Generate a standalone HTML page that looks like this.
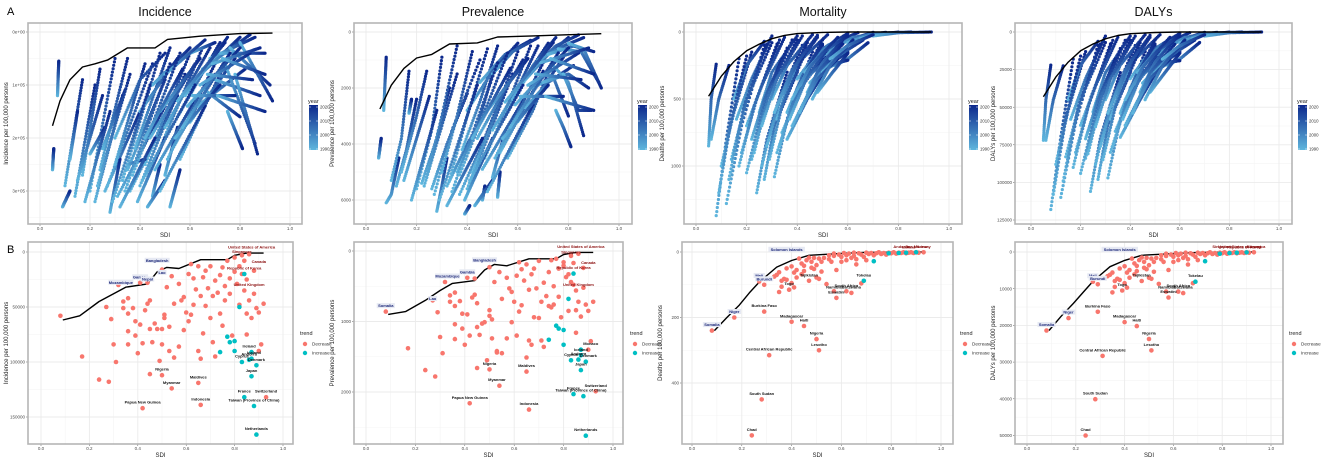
<!DOCTYPE html>
<html><head><meta charset="utf-8">
<style>
html,body{margin:0;padding:0;background:#fff;}
svg{display:block;font-family:"Liberation Sans",sans-serif;}
</style></head>
<body>
<svg id="fig" width="1325" height="465" viewBox="0 0 1325 465" xmlns="http://www.w3.org/2000/svg">
<defs>
<linearGradient id="yeargrad" x1="0" y1="1" x2="0" y2="0">
<stop offset="0" stop-color="#5fb6dd"/><stop offset="1" stop-color="#0c288c"/>
</linearGradient>
</defs>
<text x="7" y="15" font-size="11">A</text>
<text x="7" y="253" font-size="11">B</text>
</svg>
<script>
// ===== DATA =====
const SDI_TICKS = [0, 0.2, 0.4, 0.6, 0.8, 1.0];
const SDI_TICK_LABELS = ["0.0","0.2","0.4","0.6","0.8","1.0"];
const YEAR_TICKS = ["2020","2010","2000","1990"];

const P1_YTICKS = [0, 100000, 200000, 300000];
const P1_YLABELS = ["0e+00","1e+05","2e+05","3e+05"];
const P2_YTICKS = [0, 2000, 4000, 6000];
const P2_YLABELS = ["0","2000","4000","6000"];
const P3_YTICKS = [0, 500, 1000];
const P3_YLABELS = ["0","500","1000"];
const P4_YTICKS = [0, 25000, 50000, 75000, 100000, 125000];
const P4_YLABELS = ["0","25000","50000","75000","100000","125000"];

const B1_YTICKS = [0, 50000, 100000, 150000];
const B1_YLABELS = ["0","50000","100000","150000"];
const B2_YTICKS = [0, 1000, 2000];
const B2_YLABELS = ["0","1000","2000"];
const B3_YTICKS = [0, 200, 400];
const B3_YLABELS = ["0","200","400"];
const B4_YTICKS = [0, 10000, 20000, 30000, 40000, 50000];
const B4_YLABELS = ["0","10000","20000","30000","40000","50000"];

// frontiers
const P1_FRONT_S = [0.05,0.08,0.12,0.17,0.22,0.27,0.35,0.46,0.51,0.64,0.8,0.93];
const P1_FRONT_V = [177000,130000,90000,66000,60000,53000,30000,30000,14000,8000,3000,2000];
const P2_FRONT_S = [0.055,0.1,0.15,0.2,0.26,0.33,0.44,0.52,0.66,0.79,0.93];
const P2_FRONT_V = [2750,1900,1300,930,800,430,390,180,140,100,60];
const P3_FRONT_S = [0.05,0.1,0.15,0.2,0.25,0.3,0.35,0.4,0.5,0.6,0.93];
const P3_FRONT_V = [480,330,220,140,90,50,25,12,3,0,0];
const P4_FRONT_S = [0.05,0.1,0.15,0.2,0.25,0.3,0.35,0.4,0.5,0.6,0.93];
const P4_FRONT_V = [43000,30000,20000,12500,8000,4500,2300,1100,300,0,0];
const B1_FRONT_S = [0.09,0.16,0.24,0.3,0.35,0.44,0.48,0.52,0.57,0.66,0.77,0.8,0.85,0.92];
const B1_FRONT_V = [61800,58000,45000,38000,32000,29000,18000,14000,15000,7000,7000,3000,1000,1000];
const B2_FRONT_S = [0.09,0.16,0.24,0.3,0.35,0.44,0.48,0.52,0.57,0.66,0.77,0.8,0.85,0.92];
const B2_FRONT_V = [900,860,700,560,460,420,270,190,210,110,110,50,20,20];
const B3_FRONT_S = [0.09,0.14,0.19,0.23,0.27,0.34,0.4,0.47,0.59,0.7,0.93];
const B3_FRONT_V = [240,200,162,125,92,46,26,10,5,1,0];
const B4_FRONT_S = [0.09,0.14,0.19,0.23,0.27,0.34,0.4,0.47,0.59,0.7,0.93];
const B4_FRONT_V = [21400,17500,14000,11000,8000,4000,2300,900,450,100,0];

// top-row trajectories: flat waypoint lists [sdi,value,sdi,value,...] from 1990 to 2021
const P1_TRAJ = [
[0.05,260000,0.055,220000],[0.07,120000,0.075,55000],[0.09,330000,0.12,300000],[0.1,290000,0.17,90000],
[0.12,240000,0.15,150000],[0.14,310000,0.22,100000],[0.17,270000,0.24,70000],[0.2,300000,0.3,50000],
[0.22,320000,0.33,120000],[0.24,260000,0.35,50000],[0.26,300000,0.4,150000],[0.28,340000,0.32,240000],
[0.27,290000,0.45,60000],[0.3,250000,0.42,60000],[0.31,310000,0.5,140000],[0.33,280000,0.48,40000],
[0.35,260000,0.5,90000],[0.36,300000,0.55,120000],[0.38,220000,0.52,30000],[0.4,290000,0.58,80000],
[0.42,250000,0.6,40000],[0.44,200000,0.62,60000],[0.45,310000,0.48,250000],[0.47,230000,0.65,30000],
[0.5,270000,0.55,180000],[0.5,180000,0.68,30000],[0.52,330000,0.56,260000],[0.53,220000,0.7,80000],
[0.55,160000,0.72,20000],[0.56,240000,0.74,60000],[0.58,120000,0.75,10000],[0.6,170000,0.78,50000],
[0.62,90000,0.8,10000],[0.63,140000,0.82,70000],[0.65,70000,0.84,5000],[0.66,110000,0.8,160000],
[0.68,50000,0.86,10000],[0.7,90000,0.88,120000],[0.72,40000,0.9,40000],[0.74,60000,0.86,210000],
[0.75,150000,0.81,220000],[0.76,30000,0.92,100000],[0.78,80000,0.87,230000],[0.8,20000,0.93,130000],
[0.35,250000,0.42,240000],[0.2,230000,0.26,180000],[0.6,40000,0.7,20000],[0.45,100000,0.6,30000],
[0.4,150000,0.55,50000],[0.5,80000,0.66,15000],[0.3,200000,0.4,90000,0.5,40000],[0.25,220000,0.34,110000],
[0.15,280000,0.25,120000],[0.18,320000,0.28,150000],[0.23,290000,0.36,80000],[0.29,320000,0.44,100000],
[0.32,330000,0.46,200000],[0.34,300000,0.52,60000],[0.37,270000,0.56,40000],[0.39,320000,0.5,200000],
[0.41,280000,0.62,100000],[0.43,330000,0.5,280000],[0.46,260000,0.63,120000],[0.48,300000,0.66,140000],
[0.51,240000,0.7,60000],[0.54,200000,0.72,100000],[0.57,180000,0.76,40000],[0.59,140000,0.8,30000],
[0.61,120000,0.78,120000],[0.64,100000,0.84,40000],[0.67,80000,0.85,90000],[0.69,60000,0.88,30000],
[0.71,120000,0.9,150000],[0.73,50000,0.9,80000],[0.55,130000,0.74,20000],[0.48,150000,0.64,50000],[0.42,200000,0.57,70000]
];
const P2_TRAJ = [
[0.05,4500,0.06,3800],[0.07,2800,0.08,900],[0.08,6100,0.1,5800,0.13,4500],[0.1,5300,0.14,3800,0.17,1400],
[0.12,5500,0.16,4200,0.2,2400],[0.14,5000,0.2,3000,0.24,1400],[0.17,2900,0.18,2400],[0.2,5600,0.26,3500,0.3,900],
[0.22,5400,0.28,3800,0.33,2000],[0.24,5200,0.3,3000,0.36,500],[0.26,5600,0.32,4000,0.4,2200],[0.28,6400,0.3,5500,0.32,4500],
[0.27,5800,0.34,3500,0.45,1000],[0.3,5000,0.36,3000,0.42,700],[0.32,5500,0.4,4000,0.5,2500],[0.33,5300,0.4,3000,0.48,600],
[0.36,5000,0.44,3400,0.5,1500],[0.37,5800,0.45,4200,0.55,2000],[0.38,4200,0.45,2500,0.52,500],[0.4,5600,0.48,3800,0.58,1500],
[0.39,6500,0.41,6200],[0.42,5000,0.5,3200,0.6,700],[0.44,3800,0.52,2500,0.62,1000],[0.46,6000,0.47,5500],
[0.47,4500,0.56,2600,0.65,500],[0.5,5200,0.53,4200,0.55,3600],[0.5,3500,0.6,2000,0.68,500],[0.52,5900,0.53,5000],
[0.53,4300,0.62,2800,0.7,1400],[0.55,3000,0.64,1500,0.72,400],[0.56,4500,0.66,2800,0.74,1000],[0.58,2400,0.66,1200,0.75,200],
[0.6,3200,0.7,2000,0.78,900],[0.62,1800,0.72,800,0.8,200],[0.63,2700,0.72,1800,0.82,1200],[0.65,1400,0.75,500,0.84,100],
[0.66,2000,0.74,1600,0.8,3000],[0.68,1000,0.78,500,0.86,200],[0.7,1800,0.8,1500,0.88,2000],[0.72,800,0.82,500,0.9,700],
[0.74,1200,0.8,1800,0.86,3700],[0.75,2800,0.78,3400,0.81,4100],[0.76,600,0.85,700,0.92,1800],[0.78,1500,0.84,2800,0.89,2800],
[0.8,400,0.86,600,0.93,2000],[0.45,1800,0.55,800,0.65,300],[0.4,2800,0.5,1400,0.6,400],[0.5,1500,0.58,700,0.68,200],
[0.15,5300,0.25,2300],[0.18,6000,0.28,2800],[0.23,5500,0.36,1500],[0.29,6000,0.44,1900],[0.32,6200,0.46,3800],
[0.34,5700,0.52,1100],[0.37,5100,0.56,750],[0.39,6000,0.5,3800],[0.41,5300,0.62,1900],[0.43,6200,0.5,5300],
[0.46,4900,0.63,2300],[0.48,5700,0.66,2600],[0.51,4500,0.7,1100],[0.54,3800,0.72,1900],[0.57,3400,0.76,750],
[0.59,2600,0.8,570],[0.61,2300,0.78,2300],[0.64,1900,0.84,750],[0.67,1500,0.85,1700],[0.69,1100,0.88,570],
[0.71,2300,0.9,2800],[0.73,950,0.9,1500],[0.55,2500,0.74,380],[0.48,2800,0.64,950],[0.42,3800,0.57,1300]
];
const P3_TRAJ = [
[0.05,850,0.06,500,0.08,240],[0.08,1370,0.12,800,0.17,200],[0.12,1280,0.18,700,0.27,100],[0.1,1000,0.15,600,0.22,150],
[0.14,950,0.2,500,0.3,80],[0.18,900,0.24,500,0.33,60],[0.22,950,0.28,500,0.38,60],[0.24,1200,0.28,800,0.36,300],
[0.26,1000,0.32,550,0.42,100],[0.27,1100,0.31,700,0.4,300],[0.31,1080,0.36,650,0.46,150],[0.32,900,0.4,450,0.5,100],
[0.34,750,0.42,400,0.52,150],[0.36,800,0.44,500,0.5,320],[0.38,700,0.46,400,0.56,130],[0.2,700,0.26,400,0.35,40],
[0.16,650,0.22,350,0.3,30],[0.25,600,0.3,300,0.4,30],[0.3,500,0.36,250,0.46,20],[0.35,450,0.42,200,0.52,20],
[0.4,420,0.46,300,0.54,180],[0.45,380,0.52,250,0.6,150],[0.5,300,0.56,180,0.66,60],[0.55,250,0.6,200,0.68,80],
[0.4,350,0.48,150,0.6,10],[0.45,250,0.52,100,0.64,5],[0.5,180,0.58,70,0.7,3],[0.55,120,0.62,40,0.75,2],
[0.6,80,0.68,20,0.8,1],[0.65,50,0.72,10,0.85,0],[0.7,30,0.8,5,0.93,0],[0.52,270,0.56,230,0.6,210],
[0.28,850,0.34,450,0.44,80],[0.22,800,0.27,500,0.34,200],[0.32,650,0.38,300,0.48,40],[0.42,550,0.48,350,0.56,200],
[0.48,450,0.54,300,0.6,160],[0.15,500,0.2,250,0.27,70],[0.36,600,0.42,330,0.5,90],[0.44,450,0.5,230,0.58,60],
[0.06,800,0.09,500,0.13,250],[0.09,1200,0.14,650,0.2,180],[0.13,1100,0.19,550,0.28,90],[0.17,1000,0.23,550,0.32,90],
[0.2,1050,0.26,600,0.36,120],[0.23,900,0.29,450,0.4,60],[0.29,950,0.34,550,0.44,120],[0.33,850,0.4,420,0.5,60],
[0.37,650,0.44,330,0.54,80],[0.41,600,0.48,300,0.58,90],[0.46,500,0.53,250,0.62,60],[0.26,700,0.32,350,0.42,30],
[0.31,600,0.38,280,0.48,25],[0.43,300,0.5,150,0.6,30],[0.53,200,0.6,100,0.7,20],[0.38,500,0.45,260,0.56,40]
];
const P4_TRAJ = [
[0.05,72000,0.06,45000,0.08,22000],[0.08,118000,0.12,70000,0.17,18000],[0.12,110000,0.18,60000,0.27,9000],[0.1,88000,0.15,52000,0.22,13000],
[0.14,83000,0.2,45000,0.3,7000],[0.18,80000,0.24,44000,0.33,5500],[0.22,84000,0.28,45000,0.38,5500],[0.24,106000,0.28,70000,0.36,27000],
[0.26,88000,0.32,48000,0.42,9000],[0.27,98000,0.31,62000,0.4,27000],[0.31,97000,0.36,58000,0.46,13000],[0.32,80000,0.4,40000,0.5,9000],
[0.34,66000,0.42,36000,0.52,13000],[0.36,70000,0.44,45000,0.5,28000],[0.38,62000,0.46,36000,0.56,12000],[0.2,62000,0.26,36000,0.35,3500],
[0.16,58000,0.22,31000,0.3,2700],[0.25,53000,0.3,27000,0.4,2700],[0.3,45000,0.36,22000,0.46,1800],[0.35,40000,0.42,18000,0.52,1800],
[0.4,37000,0.46,27000,0.54,16000],[0.45,34000,0.52,22000,0.6,13000],[0.5,27000,0.56,16000,0.66,5400],[0.55,22000,0.6,18000,0.68,7000],
[0.4,31000,0.48,13000,0.6,900],[0.45,22000,0.52,9000,0.64,450],[0.5,16000,0.58,6200,0.7,270],[0.55,10700,0.62,3600,0.75,180],
[0.6,7100,0.68,1800,0.8,90],[0.65,4500,0.72,900,0.85,0],[0.7,2700,0.8,450,0.93,0],[0.52,24000,0.56,20000,0.6,19000],
[0.28,76000,0.34,40000,0.44,7100],[0.22,71000,0.27,45000,0.34,18000],[0.32,58000,0.38,27000,0.48,3600],[0.42,49000,0.48,31000,0.56,18000],
[0.48,40000,0.54,27000,0.6,14000],[0.15,45000,0.2,22000,0.27,6200],[0.36,54000,0.42,30000,0.5,8000],[0.44,40000,0.5,20000,0.58,5000],
[0.06,72000,0.09,45000,0.13,22500],[0.09,108000,0.14,58000,0.2,16000],[0.13,99000,0.19,50000,0.28,8000],[0.17,90000,0.23,50000,0.32,8000],
[0.2,94000,0.26,54000,0.36,11000],[0.23,81000,0.29,40000,0.4,5400],[0.29,85000,0.34,50000,0.44,11000],[0.33,76000,0.4,38000,0.5,5400],
[0.37,58000,0.44,30000,0.54,7200],[0.41,54000,0.48,27000,0.58,8100],[0.46,45000,0.53,22500,0.62,5400],[0.26,63000,0.32,31500,0.42,2700],
[0.31,54000,0.38,25000,0.48,2200],[0.43,27000,0.5,13500,0.6,2700],[0.53,18000,0.6,9000,0.7,1800],[0.38,45000,0.45,23400,0.56,3600]
];

// bottom row: country SDI (shared across incidence/prevalence) and values
const BA_RED_SDI = [0.08,0.17,0.24,0.28,0.27,0.29,0.3,0.31,0.32,0.34,0.34,0.36,0.36,0.36,0.36,0.38,0.39,0.39,0.4,0.41,0.41,0.42,0.43,0.44,0.44,0.45,0.45,0.46,0.45,0.47,0.48,0.49,0.5,0.5,0.5,0.51,0.51,0.52,0.53,0.53,0.54,0.55,0.55,0.57,0.57,0.58,0.59,0.59,0.6,0.61,0.61,0.62,0.62,0.63,0.63,0.64,0.65,0.65,0.66,0.66,0.67,0.67,0.68,0.68,0.69,0.7,0.7,0.71,0.71,0.72,0.72,0.73,0.74,0.74,0.75,0.75,0.76,0.76,0.77,0.78,0.78,0.79,0.8,0.8,0.81,0.82,0.82,0.83,0.83,0.84,0.84,0.85,0.85,0.85,0.86,0.86,0.87,0.88,0.88,0.89,0.9,0.9,0.91,0.92,0.5,0.54,0.65,0.42,0.66,0.93];
const B1_RED = [58000,95000,116000,118000,50000,61000,84000,100000,30000,45000,51000,42000,56000,72000,84000,51000,63000,76000,92000,28000,66000,83000,53000,28000,47000,44000,70000,82000,111000,65000,70000,99000,16000,70000,84000,57000,60000,32000,68000,90000,22000,47000,96000,29000,86000,44000,41000,71000,55000,20000,63000,11000,57000,24000,48000,34000,90000,13000,40000,97000,23000,74000,17000,49000,33000,13000,60000,40000,82000,26000,95000,37000,21000,56000,14000,67000,31000,44000,8000,24000,38000,76000,18000,5000,29000,13000,48000,3000,20000,8000,35000,25000,56000,75000,2000,44000,60000,17000,38000,51000,55000,90000,84000,47000,112000,124000,119000,142000,139000,132000];
const B2_RED = [860,1380,1690,1780,700,870,1220,1450,440,720,630,590,780,1040,1250,710,890,1100,1330,380,900,1200,660,390,620,740,1080,1190,1660,1030,1010,1550,230,840,920,970,1240,440,1420,1440,300,680,1450,380,1240,530,580,1010,720,350,1200,160,860,260,770,420,1510,190,550,1270,330,1330,250,940,530,140,950,720,1270,450,1360,640,300,780,130,800,500,760,110,250,650,940,210,160,370,330,850,70,440,170,480,560,840,1160,40,720,930,240,520,760,850,1400,1280,720,1680,1910,1710,2160,2250,1990];
const BA_CYAN_SDI = [0.82,0.77,0.78,0.8,0.74,0.84,0.87,0.87,0.86,0.83,0.89,0.87,0.84,0.88,0.89,0.8];
const B1_CYAN = [50000,77000,82000,81000,91000,20000,91000,97000,98000,100000,103000,113000,132000,140000,166000,90000];
const B2_CYAN = [680,1060,1100,1120,1260,320,1400,1480,1540,1550,1570,1690,2030,2060,2620,1330];

const BM_RED_SDI = [0.08,0.17,0.27,0.29,0.29,0.4,0.45,0.5,0.51,0.31,0.28,0.24,0.39,0.57,0.58,0.64,0.62,0.68,0.47,
0.33,0.34,0.35,0.35,0.36,0.36,0.37,0.38,0.38,0.4,0.4,0.41,0.41,0.42,0.42,0.43,0.44,0.44,0.45,0.45,0.46,0.47,0.48,0.48,0.49,0.49,0.5,0.5,0.51,0.51,0.52,0.52,0.53,0.54,0.55,0.55,0.56,0.57,0.57,0.58,0.59,0.6,0.6,0.61,0.62,0.62,0.63,0.64,0.65,0.65,0.66,0.66,0.67,0.68,0.69,0.7,0.7,0.71,0.72,0.73,0.74,0.75,0.76,0.77,0.78,0.79,0.8,0.81,0.82,0.83,0.84,0.85,0.86,0.87,0.88,0.89,0.9,0.91,0.93];
const B3_RED = [240,200,90,100,182,213,226,266,300,315,450,560,115,120,140,125,120,96,88,
75,70,62,122,106,88,82,85,50,95,44,63,108,55,78,20,35,68,42,58,25,17,48,30,52,18,40,78,20,82,30,60,18,98,10,22,30,12,5,55,8,15,30,3,10,25,5,18,2,12,38,22,4,8,15,2,25,6,3,10,4,1,6,3,8,2,4,1,5,2,3,1,4,2,1,3,1,2,1];
const B4_RED = [21400,18000,8100,8800,16300,19100,20200,23700,26800,28300,40100,50000,10500,10800,12400,11200,10800,8500,7900,
6600,6200,5600,11000,9500,7900,7300,7600,4500,8500,3900,5600,9700,4900,7000,1800,3100,6100,3800,5200,2200,1500,4300,2700,4700,1600,3600,7000,1800,7300,2700,5400,1600,8700,900,2000,2700,1100,450,4900,700,1300,2700,270,900,2200,450,1600,180,1100,3400,2000,360,700,1300,180,2200,540,270,900,360,90,540,270,700,180,360,90,450,180,270,90,360,180,90,270,90,180,90];
const BM_CYAN_SDI = [0.69,0.73,0.79,0.83,0.86,0.9];
const B3_CYAN = [88,28,4,3,2,1];
const B4_CYAN = [8100,2500,450,300,200,100];

// labels: [text, sdi, value, kind]  kind: b=blue, r=dark red, k=black
const B1_LABELS = [["United States of America",0.87,1000,"r"],["Singapore",0.83,5000,"r"],["Canada",0.9,14000,"r"],["Republic of Korea",0.84,20000,"r"],["United Kingdom",0.86,35000,"r"],
["Mozambique",0.33,33000,"b"],["Gambia",0.41,28000,"b"],["Nepal",0.44,30000,"b"],["Bangladesh",0.48,13000,"b"],["Lao",0.5,24000,"b"],
["Ireland",0.86,91000,"k"],["Iceland",0.88,97000,"k"],["Andorra",0.86,98000,"k"],["Cyprus",0.83,100000,"k"],["Denmark",0.89,103000,"k"],["Japan",0.87,113000,"k"],["France",0.84,132000,"k"],["Switzerland",0.93,132000,"k"],["Taiwan (Province of China)",0.88,140000,"k"],["Netherlands",0.89,166000,"k"],["Nigeria",0.5,112000,"k"],["Maldives",0.65,119000,"k"],["Myanmar",0.54,124000,"k"],["Papua New Guinea",0.42,142000,"k"],["Indonesia",0.66,139000,"k"]];
const B2_LABELS = [["United States of America",0.87,20,"r"],["Singapore",0.83,100,"r"],["Canada",0.9,250,"r"],["Republic of Korea",0.84,320,"r"],["United Kingdom",0.86,560,"r"],
["Somalia",0.08,860,"b"],["Mozambique",0.33,440,"b"],["Gambia",0.41,380,"b"],["Bangladesh",0.48,210,"b"],["Lao",0.27,760,"b"],
["Monaco",0.91,1400,"k"],["Iceland",0.87,1480,"k"],["Cyprus",0.83,1550,"k"],["Andorra",0.86,1540,"k"],["Denmark",0.9,1570,"k"],["Japan",0.87,1690,"k"],["Switzerland",0.93,1990,"k"],["France",0.84,2030,"k"],["Taiwan (Province of China)",0.87,2060,"k"],["Netherlands",0.89,2620,"k"],["Nigeria",0.5,1680,"k"],["Maldives",0.65,1710,"k"],["Myanmar",0.53,1910,"k"],["Papua New Guinea",0.42,2160,"k"],["Indonesia",0.66,2250,"k"]];
const B3_LABELS = [["Andorra",0.84,1,"r"],["San Marino",0.9,1,"r"],["Iceland",0.87,3,"r"],["Norway",0.93,1,"r"],
["Solomon Islands",0.38,10,"b"],["Mali",0.27,90,"b"],["Burundi",0.29,100,"b"],["Somalia",0.08,240,"b"],["Niger",0.17,200,"b"],
["Tokelau",0.69,88,"k"],["Tajikistan",0.47,88,"k"],["South Africa",0.62,120,"k"],["Namibia",0.57,125,"k"],["Botswana",0.64,125,"k"],["Eswatini",0.58,140,"k"],["Togo",0.39,115,"k"],["Burkina Faso",0.29,182,"k"],["Madagascar",0.4,213,"k"],["Haiti",0.45,226,"k"],["Nigeria",0.5,266,"k"],["Lesotho",0.51,300,"k"],["Central African Republic",0.31,315,"k"],["South Sudan",0.28,450,"k"],["Chad",0.24,560,"k"]];
const B4_LABELS = [["Singapore",0.8,100,"r"],["United States of America",0.88,100,"r"],["Norway",0.93,200,"r"],["Republic of Korea",0.89,300,"r"],
["Solomon Islands",0.38,900,"b"],["Mali",0.27,8100,"b"],["Burundi",0.29,8800,"b"],["Somalia",0.08,21400,"b"],["Niger",0.17,18000,"b"],
["Tokelau",0.69,8100,"k"],["Tajikistan",0.47,7900,"k"],["South Africa",0.62,10800,"k"],["Namibia",0.57,11200,"k"],["Botswana",0.64,11200,"k"],["Eswatini",0.58,12400,"k"],["Togo",0.39,10500,"k"],["Burkina Faso",0.29,16300,"k"],["Madagascar",0.4,19100,"k"],["Haiti",0.45,20200,"k"],["Nigeria",0.5,23700,"k"],["Lesotho",0.51,26800,"k"],["Central African Republic",0.31,28300,"k"],["South Sudan",0.28,40100,"k"],["Chad",0.24,50000,"k"]];

// ===== LAYOUT (pixel geometry only) =====
const NS = "http://www.w3.org/2000/svg";
const svg = document.getElementById('fig');
function mk(tag, attrs, parent){ const e=document.createElementNS(NS,tag); for(const k in attrs) e.setAttribute(k,attrs[k]); (parent||svg).appendChild(e); return e; }

const TOP = [
 {id:'incidence', title:'Incidence', ytitle:'Incidence per 100,000 persons', L:28,R:302,T:23,B:224, x0:40,x1:290, yA:32,yB:85, legX:308, yt:P1_YTICKS, yl:P1_YLABELS, tr:P1_TRAJ, fs:P1_FRONT_S, fv:P1_FRONT_V},
 {id:'prevalence', title:'Prevalence', ytitle:'Prevalence per 100,000 persons', L:354,R:632,T:23,B:224, x0:366,x1:619, yA:32,yB:88, legX:637, yt:P2_YTICKS, yl:P2_YLABELS, tr:P2_TRAJ, fs:P2_FRONT_S, fv:P2_FRONT_V},
 {id:'mortality', title:'Mortality', ytitle:'Deaths per 100,000 persons', L:684,R:962,T:23,B:224, x0:696,x1:949, yA:32,yB:99, legX:968, yt:P3_YTICKS, yl:P3_YLABELS, tr:P3_TRAJ, fs:P3_FRONT_S, fv:P3_FRONT_V},
 {id:'dalys', title:'DALYs', ytitle:"DALYs per 100,000 persons", L:1015,R:1292,T:23,B:224, x0:1031,x1:1279, yA:32,yB:69.6, legX:1297, yt:P4_YTICKS, yl:P4_YLABELS, tr:P4_TRAJ, fs:P4_FRONT_S, fv:P4_FRONT_V}
];
const BOT = [
 {id:'incidence', ytitle:'Incidence per 100,000 persons', L:28,R:293,T:242,B:444, x0:41,x1:283, yA:252,yB:307, legX:300, yt:B1_YTICKS, yl:B1_YLABELS, rs:BA_RED_SDI, rv:B1_RED, cs:BA_CYAN_SDI, cv:B1_CYAN, fs:B1_FRONT_S, fv:B1_FRONT_V, lab:B1_LABELS},
 {id:'prevalence', ytitle:'Prevalence per 100,000 persons', L:354,R:623,T:242,B:444, x0:366,x1:613, yA:251,yB:321.5, legX:630, yt:B2_YTICKS, yl:B2_YLABELS, rs:BA_RED_SDI, rv:B2_RED, cs:BA_CYAN_SDI, cv:B2_CYAN, fs:B2_FRONT_S, fv:B2_FRONT_V, lab:B2_LABELS},
 {id:'mortality', ytitle:'Deaths per 100,000 persons', L:682,R:953,T:242,B:444, x0:692,x1:941, yA:252,yB:317.5, legX:960, yt:B3_YTICKS, yl:B3_YLABELS, rs:BM_RED_SDI, rv:B3_RED, cs:BM_CYAN_SDI, cv:B3_CYAN, fs:B3_FRONT_S, fv:B3_FRONT_V, lab:B3_LABELS},
 {id:'dalys', ytitle:"DALYs per 100,000 persons", L:1015,R:1283,T:242,B:444, x0:1027,x1:1271, yA:252,yB:288.7, legX:1289, yt:B4_YTICKS, yl:B4_YLABELS, rs:BM_RED_SDI, rv:B4_RED, cs:BM_CYAN_SDI, cv:B4_CYAN, fs:B4_FRONT_S, fv:B4_FRONT_V, lab:B4_LABELS}
];

function scales(c){
  const sx = s => c.x0 + (s - SDI_TICKS[0])*(c.x1-c.x0)/(SDI_TICKS[SDI_TICKS.length-1]-SDI_TICKS[0]);
  const sy = v => c.yA + (v - c.yt[0])*(c.yB-c.yA)/(c.yt[1]-c.yt[0]);
  return {sx, sy};
}

function axes(c, g, row){
  const {sx, sy} = scales(c);
  const bg = mk('rect',{x:c.L,y:c.T,width:c.R-c.L,height:c.B-c.T,fill:'#fff'},g);
   
  for(let i=0;i<SDI_TICKS.length-1;i++){
    const m=(SDI_TICKS[i]+SDI_TICKS[i+1])/2;
    mk('line',{x1:sx(m),x2:sx(m),y1:c.T,y2:c.B,stroke:'#f4f4f4','stroke-width':0.6},g);
  }
  for(let i=0;i<c.yt.length-1;i++){
    const m=(c.yt[i]+c.yt[i+1])/2;
    mk('line',{x1:c.L,x2:c.R,y1:sy(m),y2:sy(m),stroke:'#f4f4f4','stroke-width':0.6},g);
  }
  const lm = (c.yt[c.yt.length-1] + (c.yt[1]-c.yt[0])/2);
  if(sy(lm) < c.B) mk('line',{x1:c.L,x2:c.R,y1:sy(lm),y2:sy(lm),stroke:'#f4f4f4','stroke-width':0.6},g);
  SDI_TICKS.forEach((t,i)=>{
    const x=sx(t);
    mk('line',{x1:x,x2:x,y1:c.T,y2:c.B,stroke:'#ebebeb','stroke-width':0.9},g);
    mk('line',{x1:x,x2:x,y1:c.B,y2:c.B+2,stroke:'#555','stroke-width':0.5},g);
    const tl=mk('text',{x:x,y:c.B+6,'font-size':4.5,fill:'#4d4d4d','text-anchor':'middle'},g);
    tl.textContent=SDI_TICK_LABELS[i];
     
  });
  c.yt.forEach((t,i)=>{
    const y=sy(t);
    mk('line',{x1:c.L,x2:c.R,y1:y,y2:y,stroke:'#ebebeb','stroke-width':0.9},g);
    mk('line',{x1:c.L-2,x2:c.L,y1:y,y2:y,stroke:'#555','stroke-width':0.5},g);
    const tl=mk('text',{x:c.L-3,y:y+1.6,'font-size':4.5,fill:'#4d4d4d','text-anchor':'end'},g);
    tl.textContent=c.yl[i];
     
  });
  const xt=mk('text',{x:(c.L+c.R)/2,y:c.B+13,'font-size':6,fill:'#222','text-anchor':'middle'},g);
  xt.textContent='SDI';
   
  const ycx = c.L-20, ycy=(c.T+c.B)/2;
  const yt=mk('text',{x:ycx,y:ycy,'font-size':6,fill:'#222','text-anchor':'middle',transform:`rotate(-90 ${ycx} ${ycy})`},g);
  yt.textContent=c.ytitle;
   
}
function border(c,g){
  const b=mk('rect',{x:c.L,y:c.T,width:c.R-c.L,height:c.B-c.T,fill:'none',stroke:'#b5b5b5','stroke-width':1.6},g);
   
}
function frontier(c,g){
  const {sx,sy}=scales(c);
  const d=c.fs.map((s,i)=>(i?'L':'M')+sx(s).toFixed(1)+','+sy(c.fv[i]).toFixed(1)).join(' ');
  const p=mk('path',{d:d,fill:'none',stroke:'#000','stroke-width':1.4,'stroke-linejoin':'round'},g);
   
}
const LIGHT=[95,182,221], DARK=[12,40,140];
function yearColor(f){ return 'rgb('+LIGHT.map((a,i)=>Math.round(a+(DARK[i]-a)*f)).join(',')+')'; }

TOP.forEach(c=>{
  const g=mk('g',{});
   
  const {sx,sy}=scales(c);
  const t=mk('text',{x:(c.L+c.R)/2,y:16,'font-size':12.5,fill:'#111','text-anchor':'middle'},g);
  t.textContent=c.title;
   
  axes(c,g,0);
  const pg=mk('g',{},g);
   
  const NY=40;
  c.tr.forEach(tr=>{
    const pts=[]; for(let i=0;i<tr.length;i+=2) pts.push([sx(tr[i]),sy(tr[i+1])]);
    const cum=[0]; for(let i=1;i<pts.length;i++) cum.push(cum[i-1]+Math.hypot(pts[i][0]-pts[i-1][0],pts[i][1]-pts[i-1][1]));
    const tot=cum[cum.length-1]||1;
    for(let k=0;k<NY;k++){
      const d=tot*k/(NY-1); let j=1; while(j<pts.length-1 && cum[j]<d) j++;
      const seg=(cum[j]-cum[j-1])||1, f=(d-cum[j-1])/seg;
      const x=pts[j-1][0]+(pts[j][0]-pts[j-1][0])*f, y=pts[j-1][1]+(pts[j][1]-pts[j-1][1])*f;
      const dot=mk('circle',{cx:x.toFixed(1),cy:y.toFixed(1),r:1.6,fill:yearColor(k/(NY-1))},pg);
       
    }
  });
  frontier(c,g);
  border(c,g);
  const lg=mk('g',{},g);
   
  const lt=mk('text',{x:c.legX,y:103,'font-size':5.5,fill:'#222'},lg); lt.textContent='year';
  const cb=mk('rect',{x:c.legX+1,y:105,width:9,height:45,fill:'url(#yeargrad)'},lg);
   
  YEAR_TICKS.forEach((s,i)=>{
    const y=107+i*14;
    mk('line',{x1:c.legX+1,x2:c.legX+3,y1:y,y2:y,stroke:'#fff','stroke-width':0.5},lg);
    mk('line',{x1:c.legX+8,x2:c.legX+10,y1:y,y2:y,stroke:'#fff','stroke-width':0.5},lg);
    const tt=mk('text',{x:c.legX+12,y:y+1.6,'font-size':4.3,fill:'#333'},lg); tt.textContent=s;
  });
});

BOT.forEach(c=>{
  const g=mk('g',{});
   
  const {sx,sy}=scales(c);
  axes(c,g,1);
  frontier(c,g);
  const pg=mk('g',{},g);
   
  c.rs.forEach((s,i)=>{
    const d=mk('circle',{cx:sx(s).toFixed(1),cy:sy(c.rv[i]).toFixed(1),r:2.3,fill:'#F8766D'},pg);
     
  });
  c.cs.forEach((s,i)=>{
    const d=mk('circle',{cx:sx(s).toFixed(1),cy:sy(c.cv[i]).toFixed(1),r:2.3,fill:'#00BFC4'},pg);
     
  });
  const lgl=mk('g',{},g);
   
  c.lab.forEach(l=>{
    const x=sx(l[1]), y=sy(l[2]);
    const col = l[3]==='b' ? '#1f2a7a' : (l[3]==='r' ? '#8b1010' : '#111');
    if(l[3]==='b'){
      const w=l[0].length*2.3+2;
      mk('rect',{x:x-w/2,y:y-8.5,width:w,height:5,fill:'#e6e9f3'},lgl);
    }
    const t=mk('text',{x:x,y:y-4.5,'font-size':4,'font-weight':'bold',fill:col,'text-anchor':'middle'},lgl);
    t.textContent=l[0];
     
  });
  border(c,g);
  const lg=mk('g',{},g);
   
  const lt=mk('text',{x:c.legX,y:335,'font-size':5.5,fill:'#222'},lg); lt.textContent='trend';
  mk('circle',{cx:c.legX+5,cy:344,r:2.2,fill:'#F8766D'},lg);
  const t1=mk('text',{x:c.legX+12,y:345.6,'font-size':4.6,fill:'#333'},lg); t1.textContent='Decrease';
  mk('circle',{cx:c.legX+5,cy:353,r:2.2,fill:'#00BFC4'},lg);
  const t2=mk('text',{x:c.legX+12,y:354.6,'font-size':4.6,fill:'#333'},lg); t2.textContent='Increase';
});
</script>
</body></html>
